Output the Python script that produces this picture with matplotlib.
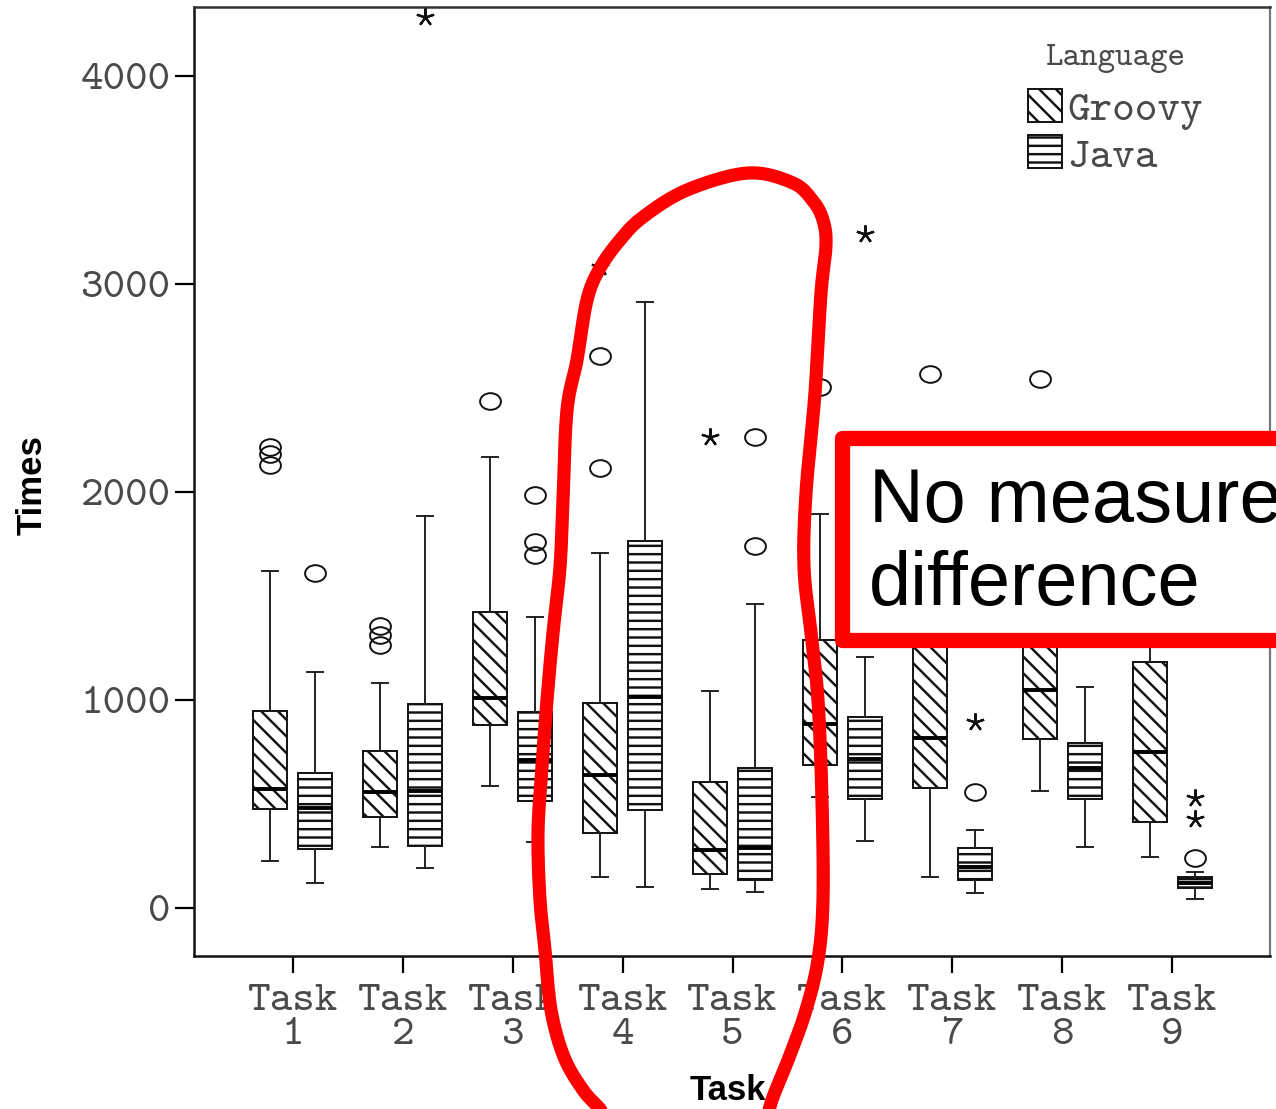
import numpy as np
import matplotlib
matplotlib.use("Agg")
import matplotlib.pyplot as plt
from matplotlib.path import Path
from matplotlib.patches import Patch, Rectangle
from matplotlib.lines import Line2D
from matplotlib.transforms import Affine2D

# ---------------- data ----------------
tasks = [f"Task\n{i}" for i in range(1, 10)]
legend_title = "Language"
series_names = ["Groovy", "Java"]

groovy_whislo = [226, 293, 587, 149, 91, 534, 149, 562, 245]
groovy_q1 = [474, 438, 880, 360, 163, 688, 577, 812, 413]
groovy_med = [572, 558, 1009, 639, 279, 885, 817, 1048, 750]
groovy_q3 = [945, 755, 1423, 985, 606, 1288, 1330, 1262, 1183]
groovy_whishi = [1618, 1082, 2168, 1707, 1043, 1894, 2050, 1750, 2290]
groovy_circles = [[2130, 2185, 2216], [1264, 1312, 1358], [2437], [2115, 2654], [],
                  [2505], [2567], [2543], []]
groovy_stars = [[], [], [], [3080], [2264], [], [], [], []]

java_whislo = [120, 192, 317, 101, 77, 322, 72, 293, 43]
java_q1 = [284, 298, 514, 471, 135, 524, 135, 524, 98]
java_med = [481, 563, 712, 1014, 288, 716, 197, 673, 120]
java_q3 = [649, 981, 942, 1764, 673, 918, 288, 793, 149]
java_whishi = [1135, 1885, 1399, 2913, 1462, 1207, 375, 1062, 172]
java_circles = [[1610], [], [1697, 1760, 1986], [], [1740, 2264], [], [558], [], [240]]
java_stars = [[], [4284], [], [], [], [3240], [894], [], [428, 529]]

yticks = [0, 1000, 2000, 3000, 4000]

note_lines = ["No measureable", "difference"]

# ---------------- figure ----------------
W, H = 1276, 1109
fig = plt.figure(figsize=(W / 100, H / 100), dpi=100)
ax = fig.add_axes([194 / W, 1 - 956 / H, (1270 - 194) / W, (956 - 7) / H])

plt.rcParams["hatch.linewidth"] = 1.75

mono = "cmtt10"
tick_gray = "#4a4a4a"
hatch_g = "\\\\"
hatch_j = "--"

pos = np.arange(1, 10)
off = 0.205
bw = 0.31


def stats(lo, q1, med, q3, hi):
    return [dict(whislo=a, q1=b, med=c, q3=d, whishi=e, fliers=[])
            for a, b, c, d, e in zip(lo, q1, med, q3, hi)]


common = dict(widths=bw, patch_artist=True, showfliers=False, capwidths=0.145,
              whiskerprops=dict(color="#222222", lw=1.4),
              capprops=dict(color="#222222", lw=1.4),
              medianprops=dict(color="black", lw=2.8, solid_capstyle="butt"))

ax.bxp(stats(groovy_whislo, groovy_q1, groovy_med, groovy_q3, groovy_whishi),
       positions=pos - off,
       boxprops=dict(facecolor="white", edgecolor="#111111", lw=1.4, hatch=hatch_g),
       **common)
ax.bxp(stats(java_whislo, java_q1, java_med, java_q3, java_whishi),
       positions=pos + off,
       boxprops=dict(facecolor="white", edgecolor="#111111", lw=1.4, hatch=hatch_j),
       **common)

# outlier markers
ell = Path.unit_circle().transformed(Affine2D().scale(1.25, 1.0))


def draw_pts(groups, xoff, kind):
    xs, ys = [], []
    for i, g in enumerate(groups):
        for v in g:
            xs.append(pos[i] + xoff)
            ys.append(v)
    if not xs:
        return
    if kind == "circle":
        ax.plot(xs, ys, linestyle="none", marker=ell, ms=15, mfc="none",
                mec="#111111", mew=1.4, zorder=3)
    else:
        ax.plot(xs, ys, linestyle="none", marker=(5, 2, 0), ms=13,
                mec="#111111", mew=1.6, zorder=3)


draw_pts(groovy_circles, -off, "circle")
draw_pts(groovy_stars, -off, "star")
draw_pts(java_circles, off, "circle")
draw_pts(java_stars, off, "star")

# axes
ax.set_xlim(0.1, 9.89)
ax.set_ylim(-231, 4332)
ax.set_xticks(pos)
ax.set_xticklabels(tasks, family=mono, fontsize=31, color=tick_gray, linespacing=0.92)
ax.set_yticks(yticks)
ax.set_yticklabels([str(v) for v in yticks], family=mono, fontsize=31, color=tick_gray)
ax.tick_params(axis="y", length=14, width=1.6, pad=3, color="black")
ax.tick_params(axis="x", length=12, width=1.6, pad=8, color="black")
for s in ["left", "bottom"]:
    ax.spines[s].set_linewidth(1.8)
    ax.spines[s].set_color("#111111")
ax.spines["top"].set_linewidth(1.8)
ax.spines["top"].set_color("#333333")
ax.spines["right"].set_linewidth(1.6)
ax.spines["right"].set_color("#777777")

ax.set_ylabel("Times", family="Liberation Sans", fontweight="bold", fontsize=25, va="center")
ax.yaxis.set_label_coords((32 - 194) / 1076, (956 - 485) / 949)
ax.set_xlabel("Task", family="Liberation Sans", fontweight="bold", fontsize=25, va="center")
ax.xaxis.set_label_coords((728 - 194) / 1076, (956 - 1090) / 949)

# legend
handles = [Patch(facecolor="white", edgecolor="#111111", hatch=hatch_g, lw=1.4),
           Patch(facecolor="white", edgecolor="#111111", hatch=hatch_j, lw=1.4)]
leg = ax.legend(handles, series_names, title=legend_title, loc="upper left",
                bbox_to_anchor=(1028 / W, 1 - 44 / H), bbox_transform=fig.transFigure,
                frameon=False, prop=dict(family=mono, size=31),
                title_fontproperties=dict(family=mono, size=24),
                handlelength=0.8, handleheight=0.8, handletextpad=0.12,
                labelspacing=0.12, borderpad=0, borderaxespad=0, labelcolor=tick_gray)
leg.get_title().set_color(tick_gray)
try:
    leg._legend_box.sep = 0.12 * 31 + 7.5
except Exception:
    pass

# ---------------- red annotations ----------------
loop_px = [(612, 1125), (600, 1109), (583, 1090), (564, 1057), (551, 1010), (545, 950),
           (540, 900), (538, 833), (542, 767), (547, 700), (553, 633), (560, 567),
           (563, 500), (567, 410), (577, 360), (587, 300), (600, 268), (620, 240),
           (643, 217), (687, 190), (748, 173), (793, 183), (813, 201), (823, 220),
           (826, 245), (821, 293), (815, 393), (806, 493), (804, 567), (811, 633),
           (818, 700), (822, 800), (823, 900), (818, 960), (806, 1010), (790, 1055),
           (772, 1100), (766, 1125)]


def catmull(pts, n=14):
    P = np.array(pts, float)
    P = np.vstack([P[0], P, P[-1]])
    out = []
    for i in range(1, len(P) - 2):
        p0, p1, p2, p3 = P[i - 1], P[i], P[i + 1], P[i + 2]
        for t in np.linspace(0, 1, n, endpoint=False):
            out.append(0.5 * (2 * p1 + (-p0 + p2) * t + (2 * p0 - 5 * p1 + 4 * p2 - p3) * t ** 2
                              + (-p0 + 3 * p1 - 3 * p2 + p3) * t ** 3))
    out.append(P[-2])
    return np.array(out)


sm = catmull(loop_px)
fig.add_artist(Line2D(sm[:, 0] / W, 1 - sm[:, 1] / H, transform=fig.transFigure,
                      color="#ff0000", lw=9.5, solid_capstyle="round",
                      solid_joinstyle="round", zorder=20))

rect = Rectangle((842 / W, 1 - 640 / H), (1340 - 842) / W, (640 - 438) / H,
                 transform=fig.transFigure, facecolor="white", edgecolor="#ff0000",
                 lw=11, joinstyle="round", zorder=15)
fig.add_artist(rect)
fig.text(869 / W, 1 - 522 / H, note_lines[0], family="Liberation Sans", fontsize=54.5,
         va="baseline", ha="left", color="black", zorder=16)
fig.text(869 / W, 1 - 605 / H, note_lines[1], family="Liberation Sans", fontsize=54.5,
         va="baseline", ha="left", color="black", zorder=16)

fig.savefig("out.png", dpi=100)
